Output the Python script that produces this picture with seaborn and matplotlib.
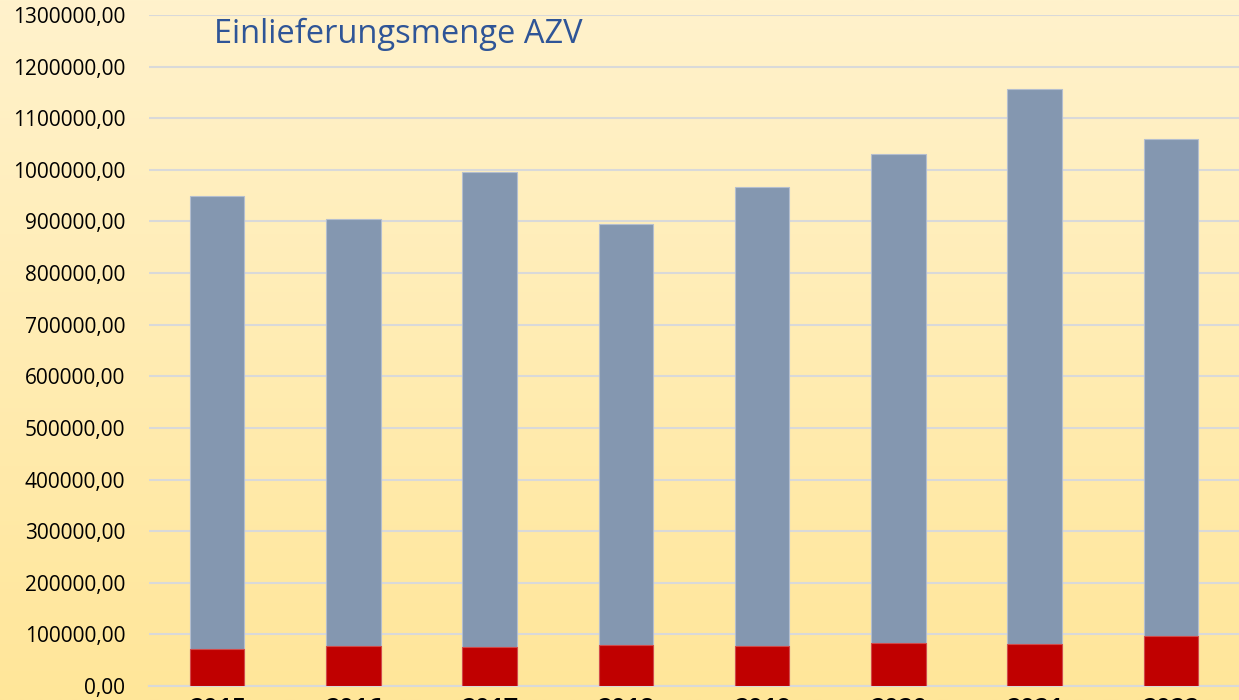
import numpy as np
import pandas as pd
import matplotlib
matplotlib.use("Agg")
import matplotlib.pyplot as plt
from matplotlib.colors import LinearSegmentedColormap
from matplotlib.ticker import FuncFormatter
import seaborn as sns

# ---- data ----
years = ["2015", "2016", "2017", "2018", "2019", "2020", "2021", "2022"]
red_part = [72300, 77500, 75600, 79500, 77500, 83900, 81400, 96900]
blue_part = [876400, 826600, 919600, 814900, 888600, 946100, 1074600, 962100]
title = "Einlieferungsmenge AZV"

sns.set_theme(style="white")
plt.rcParams["font.family"] = ["Open Sans", "DejaVu Sans"]

W, H = 1239, 700
fig = plt.figure(figsize=(W / 100, H / 100), dpi=100)

# background gradient
bg = fig.add_axes([0, 0, 1, 1], zorder=-10)
cmap = LinearSegmentedColormap.from_list("bg", ["#FFF2CC", "#FFE699"])
grad = np.linspace(0, 1, 256).reshape(-1, 1)
bg.imshow(grad, aspect="auto", cmap=cmap, extent=[0, 1, 0, 1], origin="upper")
bg.axis("off")

left_px, right_px, top_px, bottom_px = 149, 1239, 15, 686
ax = fig.add_axes([left_px / W, (H - bottom_px) / H,
                   (right_px - left_px) / W, (bottom_px - top_px) / H])
ax.set_facecolor("none")

df = pd.DataFrame({"year": years, "red": red_part, "blue": blue_part})
df["total"] = df["red"] + df["blue"]

sns.barplot(data=df, x="year", y="total", color="#8497B0", saturation=1,
            width=0.4, edgecolor="#B4BECF", linewidth=0.8, ax=ax, zorder=3)
sns.barplot(data=df, x="year", y="red", color="#C00000", saturation=1,
            width=0.4, edgecolor="#D24A4A", linewidth=0.8, ax=ax, zorder=4)

ax.set_xlim(-0.5, len(years) - 0.5)
ax.set_ylim(0, 1300000)
ax.set_yticks(np.arange(0, 1300001, 100000))
ax.yaxis.set_major_formatter(FuncFormatter(lambda v, p: f"{v:.2f}".replace(".", ",")))
ax.grid(axis="y", color="#D9D9D9", linewidth=1.5, zorder=0)
ax.set_axisbelow(True)

for s in ["left", "right", "top"]:
    ax.spines[s].set_visible(False)
ax.spines["bottom"].set_color("#D9D9D9")
ax.spines["bottom"].set_linewidth(1.5)

ax.tick_params(axis="y", length=0, pad=17, labelsize=15, labelcolor="black")
ax.tick_params(axis="x", which="major", length=0, pad=8, labelsize=18, labelcolor="black")
ax.set_xticks(np.arange(-0.5, len(years) - 0.4, 1.0), minor=True)
ax.tick_params(axis="x", which="minor", length=14, width=1.5, color="#D9D9D9", direction="out")
for lab in ax.get_xticklabels():
    lab.set_fontweight("bold")
ax.set_xlabel("")
ax.set_ylabel("")

fig.text(214 / W, 1 - 43 / H, title, fontsize=23.5, color="#2F5597", va="baseline", ha="left")

fig.savefig("out.png", dpi=100)
